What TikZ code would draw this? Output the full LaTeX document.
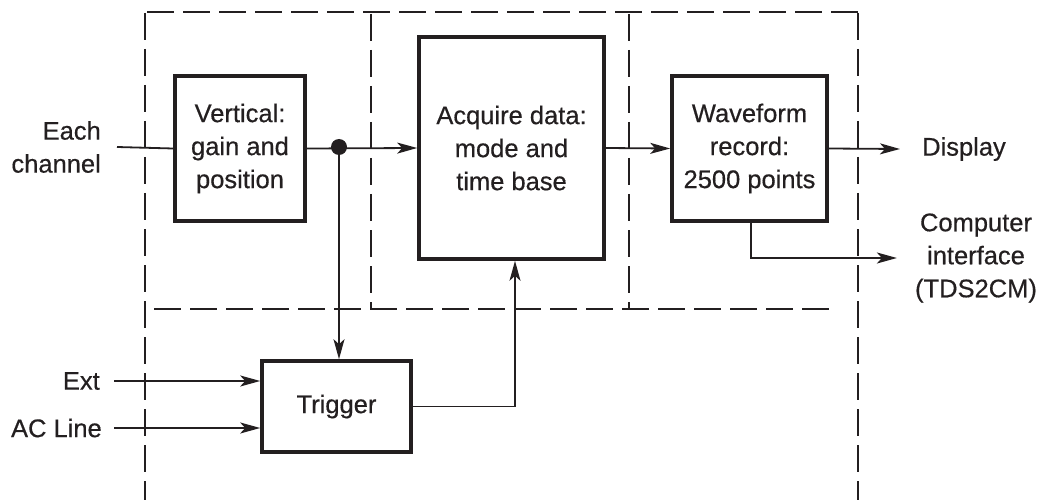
\documentclass[tikz,border=0pt]{standalone}
\usepackage{fontspec}
\setmainfont{Liberation Sans}[FakeBold=0.5]
\usetikzlibrary{arrows.meta,calc}
\definecolor{ink}{HTML}{231F20}
\tikzset{
  blk/.style={draw=ink, line width=3.6pt, inner sep=0pt, align=center, text=ink},
  lbl/.style={inner sep=0pt, text=ink},
  wire/.style={draw=ink, line width=1.8pt},
  arr/.style={wire, -{Stealth[length=20pt,width=11pt,inset=5pt]}},
  zone/.style={draw=ink, line width=1.5pt, dash pattern=on 27pt off 9pt},
}
\begin{document}
\begin{tikzpicture}[x=1pt,y=-1pt, font=\fontsize{25.5}{33}\selectfont]
\useasboundingbox (0,0) rectangle (1042,500);
% dashed zones
\draw[zone] (145,13) -- (145,500);
\draw[zone] (147,12) -- (858,12);
\draw[zone] (858,13) -- (858,500);
\draw[zone] (371,14) -- (371,309);
\draw[zone] (629,14) -- (629,309);
\draw[zone] (154,309) -- (837,309);
% blocks
\node[blk, minimum width=130pt, minimum height=145pt] (vert) at (240,148.5) {Vertical:\\gain and\\position};
\node[blk, minimum width=185pt, minimum height=222pt] (acq) at (511.5,148) {Acquire data:\\mode and\\time base};
\node[blk, minimum width=155pt, minimum height=145pt] (wave) at (749.5,148.5) {Waveform\\record:\\2500 points};
\node[blk, minimum width=149pt, minimum height=91pt] (trig) at (336.5,406.5) {Trigger};
% labels
\node[lbl, anchor=east, align=right] (each) at (101,147) {Each\\channel};
\node[lbl, anchor=east] (ext) at (100,381) {Ext};
\node[lbl, anchor=east] (acl) at (102,428) {AC Line};
\node[lbl, anchor=west] (disp) at (922,149) {Display};
\node[lbl, align=center] (comp) at (976,258) {Computer\\interface\\(TDS2CM)};
\coordinate (dot) at (339,147);
\coordinate (cin) at (117,147);
\coordinate (wtap) at (751,259);
% connectors
\draw[wire] (cin) -- (vert.west);
\draw[arr] (vert.east) -- (acq.west);
\fill[ink] (dot) circle (8pt);
\draw[arr] (dot) -- (dot |- trig.north);
\draw[arr] ($(ext.east)+(14,0)$) -- (trig.west |- ext.east);
\draw[arr] ($(acl.east)+(12,0)$) -- (trig.west |- acl.east);
\draw[arr] (trig.east) -| ($(acq.south)+(3.5,0)$);
\draw[arr] (acq.east) -- (wave.west);
\draw[arr] (wave.east) -- ($(disp.west)+(-22,0)$);
\draw[arr] (wave.south -| wtap) |- ($(comp.west)+(-18,0)$);
\end{tikzpicture}
\end{document}
